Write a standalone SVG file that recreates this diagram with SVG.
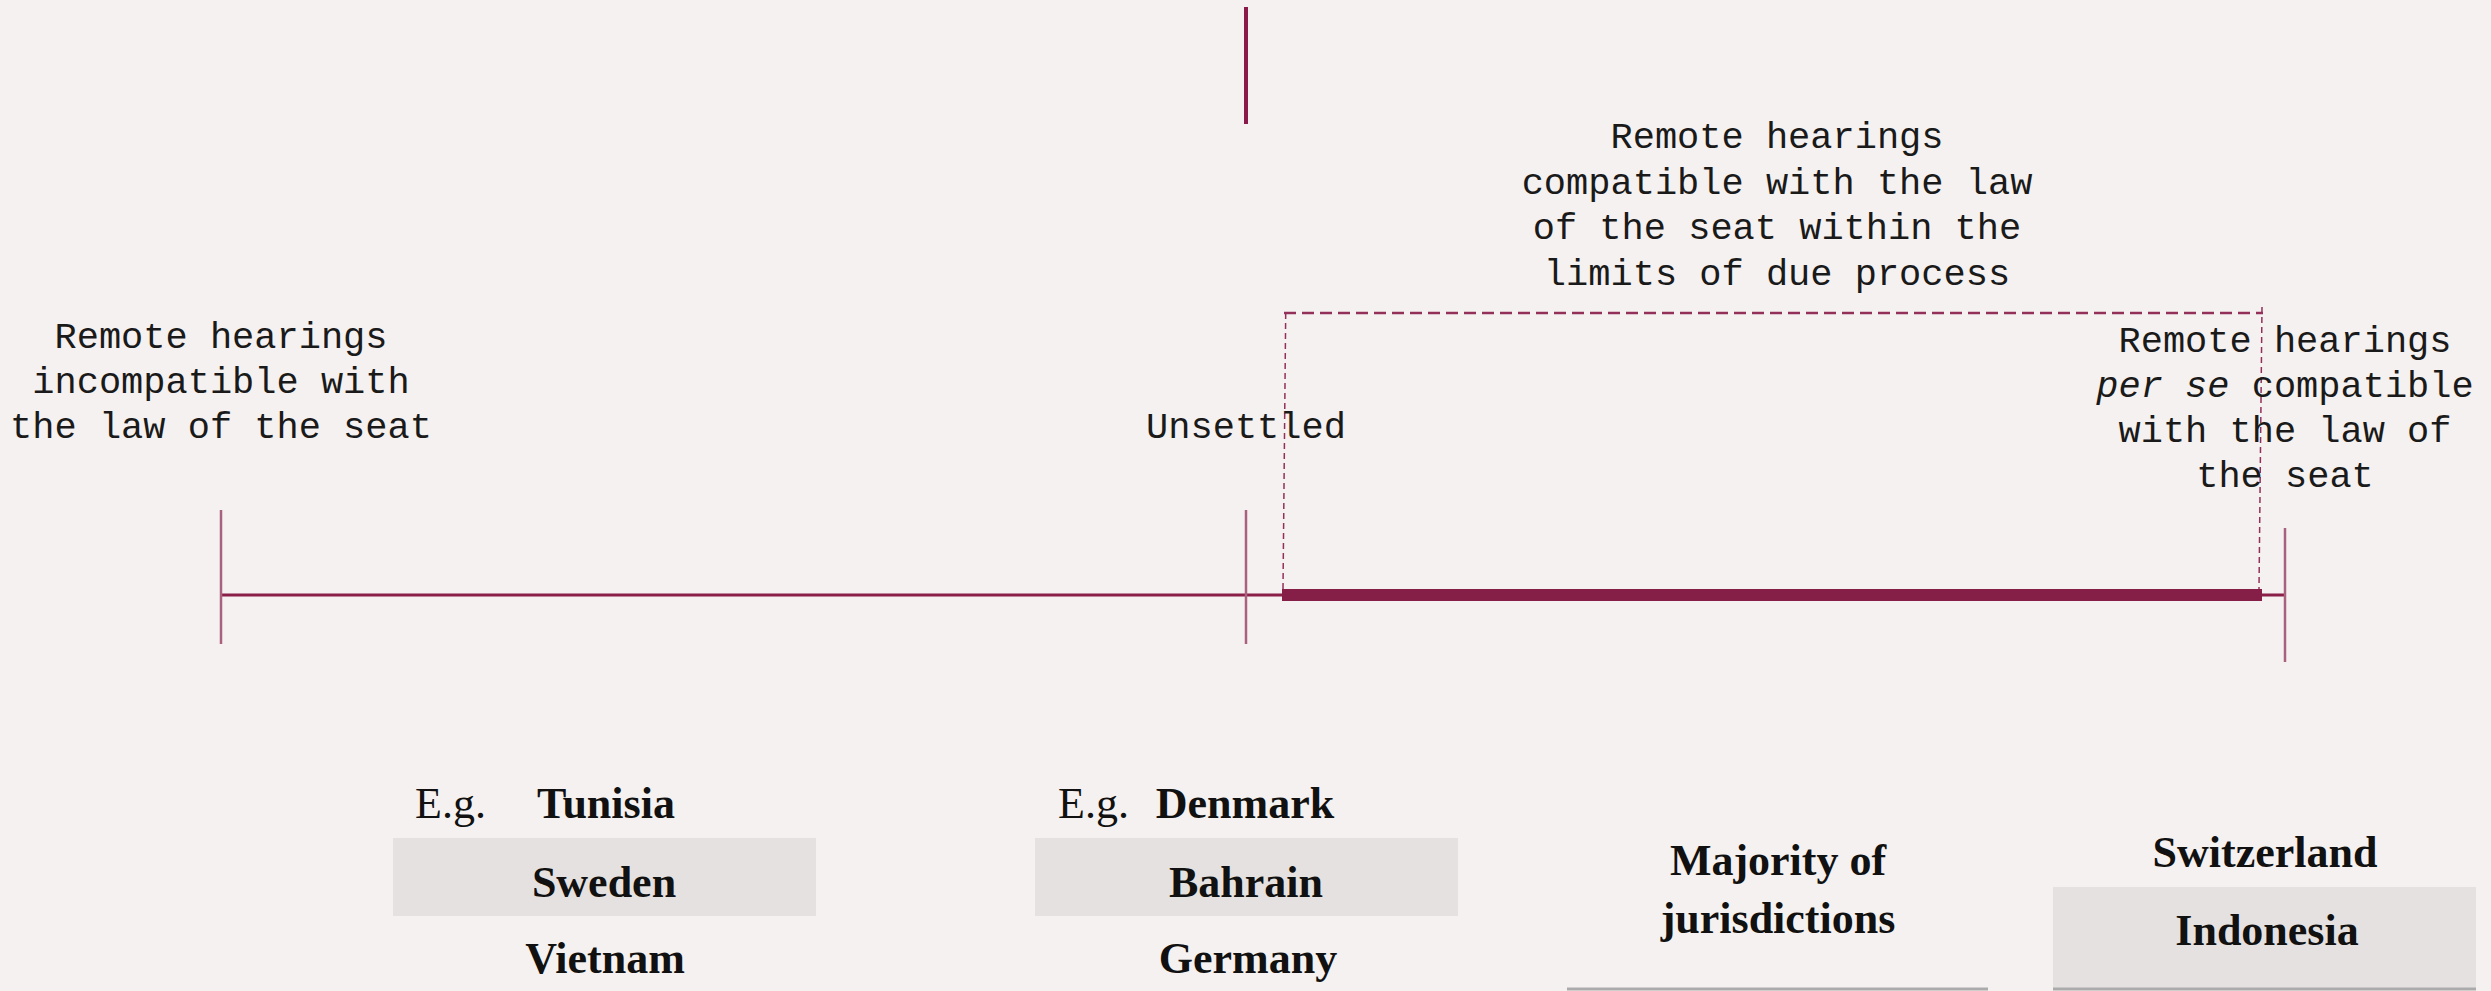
<svg xmlns="http://www.w3.org/2000/svg" width="2491" height="991" viewBox="0 0 2491 991">
<style>
.mono{font-family:"Liberation Mono","Courier New",monospace;font-size:37px;fill:#1a1a1a;text-anchor:middle}
.ser{font-family:"Liberation Serif","Times New Roman",serif;font-size:44px;fill:#111;text-anchor:middle;font-weight:bold}
.eg{font-family:"Liberation Serif","Times New Roman",serif;font-size:44px;fill:#111}
.box{fill:#e5e1e0}
.tick{stroke:#a9617f;stroke-width:2.5}
.rule{stroke:#ababab;stroke-width:3}
</style>
<rect width="2491" height="991" fill="#f5f1f0"/>
<g id="connectors">
<line x1="1246" y1="7" x2="1246" y2="124" stroke="#8a1a4a" stroke-width="4"/>
<line x1="221" y1="595" x2="2285" y2="595" stroke="#8a1f48" stroke-width="3"/>
<rect x="1282" y="589" width="980" height="12" fill="#861f47"/>
<line class="tick" x1="221" y1="510" x2="221" y2="644"/>
<line class="tick" x1="1246" y1="510" x2="1246" y2="644"/>
<line class="tick" x1="2285" y1="528" x2="2285" y2="662"/>
<g fill="none" stroke="#93305a">
<line x1="1284" y1="313" x2="2263" y2="313" stroke-width="2.5" stroke-dasharray="12,6"/>
<line x1="1285.7" y1="313" x2="1283" y2="589" stroke-width="1.5" stroke-dasharray="6,4"/>
<line x1="2262" y1="307" x2="2259" y2="589" stroke-width="1.5" stroke-dasharray="6,4"/>
</g>
</g>
<g id="label-incompatible">
<text class="mono" x="221" y="348">Remote hearings</text>
<text class="mono" x="221" y="393">incompatible with</text>
<text class="mono" x="221" y="438">the law of the seat</text>
</g>
<g id="label-unsettled">
<text class="mono" x="1246" y="438">Unsettled</text>
</g>
<g id="label-due-process">
<text class="mono" x="1777" y="148">Remote hearings</text>
<text class="mono" x="1777" y="194">compatible with the law</text>
<text class="mono" x="1777" y="239">of the seat within the</text>
<text class="mono" x="1777" y="285">limits of due process</text>
</g>
<g id="label-per-se">
<text class="mono" x="2285" y="352">Remote hearings</text>
<text class="mono" x="2285" y="397"><tspan font-style="italic">per se</tspan> compatible</text>
<text class="mono" x="2285" y="442">with the law of</text>
<text class="mono" x="2285" y="487">the seat</text>
</g>
<g id="examples-incompatible">
<rect class="box" x="393" y="838" width="423" height="78"/>
<text class="eg" x="415" y="818">E.g.</text>
<text class="ser" x="606" y="818">Tunisia</text>
<text class="ser" x="604" y="897">Sweden</text>
<text class="ser" x="605" y="973">Vietnam</text>
</g>
<g id="examples-unsettled">
<rect class="box" x="1035" y="838" width="423" height="78"/>
<text class="eg" x="1058" y="818">E.g.</text>
<text class="ser" x="1245" y="818">Denmark</text>
<text class="ser" x="1246" y="897">Bahrain</text>
<text class="ser" x="1248" y="973">Germany</text>
</g>
<g id="examples-majority">
<text class="ser" x="1778" y="875">Majority of</text>
<text class="ser" x="1778" y="933">jurisdictions</text>
<line class="rule" x1="1567" y1="989" x2="1988" y2="989"/>
</g>
<g id="examples-per-se">
<text class="ser" x="2265" y="867">Switzerland</text>
<rect class="box" x="2053" y="887" width="423" height="102"/>
<text class="ser" x="2267" y="945">Indonesia</text>
<line class="rule" x1="2053" y1="989" x2="2476" y2="989"/>
</g>
</svg>
